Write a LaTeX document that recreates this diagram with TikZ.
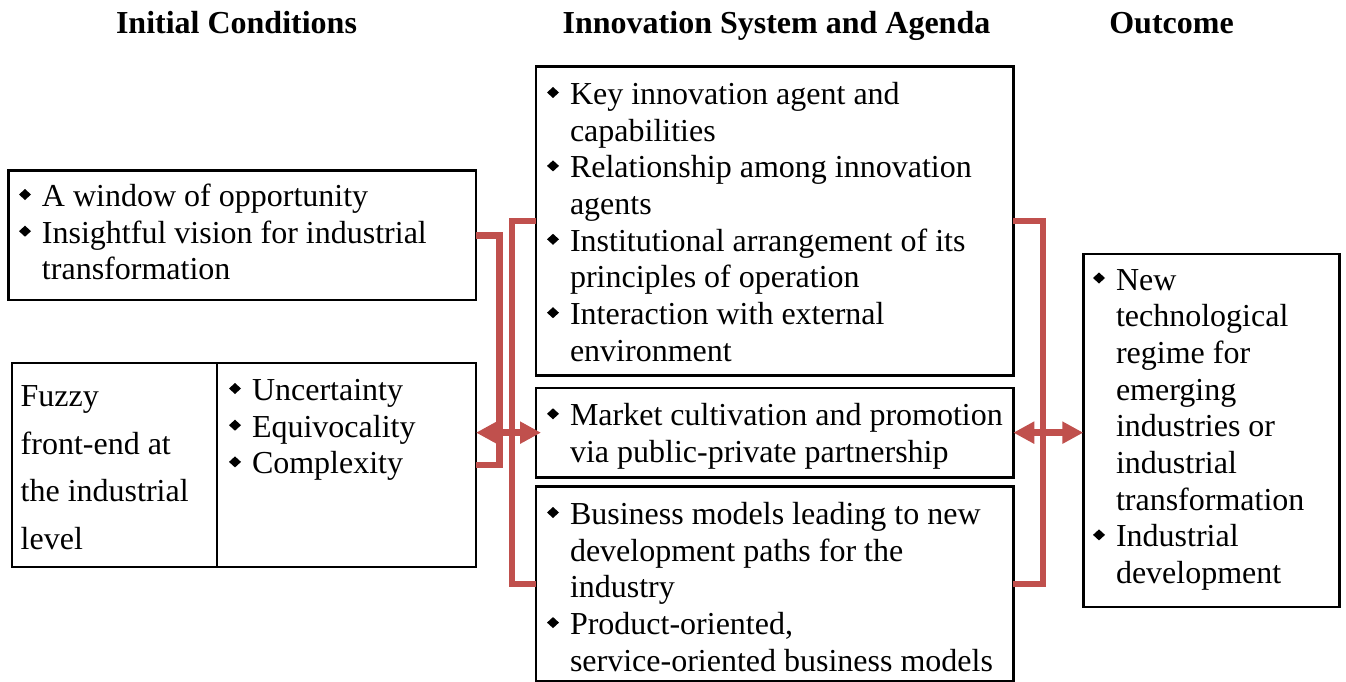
\documentclass[tikz,border=0pt]{standalone}
\usepackage{fontspec}
\setmainfont{Liberation Serif}
\usetikzlibrary{arrows.meta}
\definecolor{connred}{HTML}{C0504D}
\newcommand{\dia}{\makebox[23pt][l]{\tikz[baseline=0pt]\fill[black] (0pt,12pt) -- (6pt,6.5pt) -- (12pt,12pt) -- (6pt,17.5pt) -- cycle;}}
\newcommand{\ind}{\hspace*{23pt}}
\tikzset{
  box/.style={draw, line width=2.5pt, inner sep=0pt, outer sep=0pt, anchor=north west},
  txt/.style={inner sep=0pt, outer sep=0pt, anchor=base west, font=\fontsize{32}{36.7}\selectfont},
  head/.style={inner sep=0pt, anchor=base, font=\fontsize{32}{36}\selectfont\bfseries},
  conn/.style={draw=connred, line width=6.5pt},
  biarrow/.style={conn, {Triangle[length=21pt,width=21pt]}-{Triangle[length=21pt,width=21pt]}},
}
\begin{document}
\begin{tikzpicture}[x=1pt,y=-1pt]
\useasboundingbox (0,0) rectangle (1346,682);
% headings
\node[head] (h1) at (236.5,34) {Initial Conditions};
\node[head] (h2) at (776.5,34) {Innovation System and Agenda};
\node[head] (h3) at (1171.5,34) {Outcome};
% boxes
\node[box, minimum width=467.5pt, minimum height=129.5pt] (ltop) at (8.5,170.5) {};
\node[box, minimum width=205pt, minimum height=204pt] (lbotL) at (12,363) {};
\node[box, minimum width=259pt, minimum height=204pt] (lbotR) at (217,363) {};
\node[box, minimum width=477.3pt, minimum height=308.6pt] (m1) at (536,66.7) {};
\node[box, minimum width=477.3pt, minimum height=89.3pt] (m2) at (536,388) {};
\node[box, minimum width=477.3pt, minimum height=194.3pt] (m3) at (536,486.7) {};
\node[box, minimum width=256pt, minimum height=353pt] (out) at (1083.3,254) {};
% texts
\node[txt] (t1) at (19,206.5) {\begin{tabular}[t]{@{}l@{}}\dia A window of opportunity\\ \dia Insightful vision for industrial\\ \ind transformation\end{tabular}};
\node[txt, font=\fontsize{32}{47.7}\selectfont] (t2) at (20.7,406.5) {\begin{tabular}[t]{@{}l@{}}Fuzzy\\ front-end at\\ the industrial\\ level\end{tabular}};
\node[txt] (t3) at (229,400.5) {\begin{tabular}[t]{@{}l@{}}\dia Uncertainty\\ \dia Equivocality\\ \dia Complexity\end{tabular}};
\node[txt] (t4) at (547,104.5) {\begin{tabular}[t]{@{}l@{}}\dia Key innovation agent and\\ \ind capabilities\\ \dia Relationship among innovation\\ \ind agents\\ \dia Institutional arrangement of its\\ \ind principles of operation\\ \dia Interaction with external\\ \ind environment\end{tabular}};
\node[txt] (t5) at (547,425.8) {\begin{tabular}[t]{@{}l@{}}\dia Market cultivation and promotion\\ \ind via public-private partnership\end{tabular}};
\node[txt] (t6) at (547,524.5) {\begin{tabular}[t]{@{}l@{}}\dia Business models leading to new\\ \ind development paths for the\\ \ind industry\\ \dia Product-oriented,\\ \ind service-oriented business models\end{tabular}};
\node[txt] (t7) at (1093,290) {\begin{tabular}[t]{@{}l@{}}\dia New\\ \ind technological\\ \ind regime for\\ \ind emerging\\ \ind industries or\\ \ind industrial\\ \ind transformation\\ \dia Industrial\\ \ind development\end{tabular}};
% connectors
\draw[conn] (ltop.east) -- ++(23.5,0) |- (lbotR.east);
\draw[conn] (m1.west) -- ++(-24,0) |- (m3.west);
\draw[conn] (m1.east) -- ++(29.7,0) |- (m3.east);
\draw[biarrow, shorten >=-5pt] (lbotR.east |- m2.west) -- (m2.west);
\draw[biarrow] (m2.east) -- (out.west |- m2.east);
\end{tikzpicture}
\end{document}
